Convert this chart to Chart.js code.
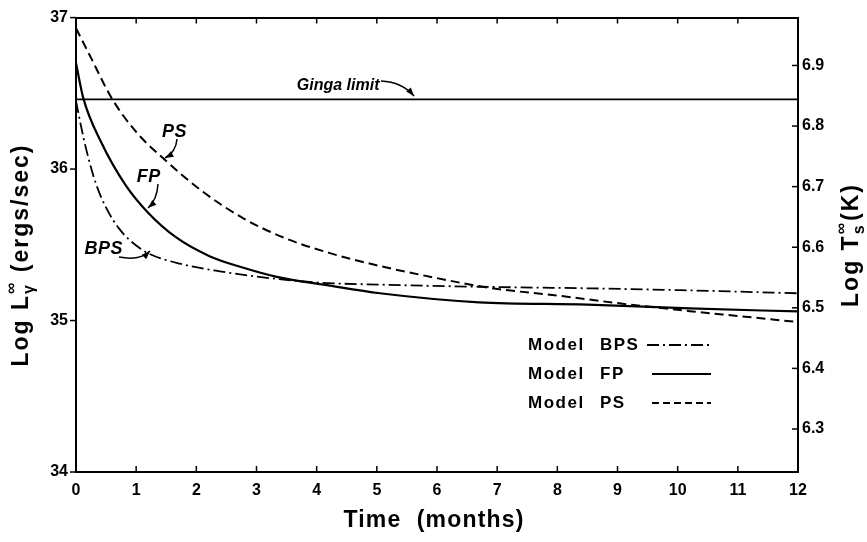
<!DOCTYPE html>
<html>
<head>
    <title>Cooling curves</title>
    <script src="https://cdn.jsdelivr.net/npm/chart.js@4.4.1/dist/chart.umd.min.js"></script>
    <style>
        body { margin: 0; background: #fff; }
        #wrap { width: 867px; height: 542px; }
    </style>
</head>
<body>
    <div id="wrap"><canvas id="myChart" width="867" height="542"></canvas></div>

    <script>
        // values (months, log L)
        var psMonths = [0, 0.23, 0.59, 1.0, 1.48, 2.11, 2.78, 3.5, 4.22, 5.05, 6.0, 6.88, 8.0, 9.0, 10.2, 11.0, 12];
        var psLog = [36.93, 36.75, 36.47, 36.245, 36.06, 35.85, 35.675, 35.54, 35.445, 35.36, 35.28, 35.215, 35.165, 35.115, 35.062, 35.03, 34.99];

        var fpMonths = [0, 0.12, 0.415, 0.83, 1.19, 1.66, 2.22, 2.77, 3.32, 4.22, 5.05, 6.7, 8.5, 10.2, 12];
        var fpLog = [36.70, 36.47, 36.18, 35.89, 35.715, 35.55, 35.425, 35.35, 35.29, 35.23, 35.18, 35.12, 35.105, 35.08, 35.06];

        var bpsMonths = [0, 0.08, 0.17, 0.33, 0.5, 0.72, 1.0, 1.22, 1.73, 2.39, 3.22, 4.05, 5.05, 6.7, 8.6, 10.3, 12];
        var bpsLog = [36.45, 36.29, 36.13, 35.905, 35.745, 35.605, 35.495, 35.44, 35.375, 35.325, 35.28, 35.25, 35.237, 35.223, 35.212, 35.198, 35.18];

        var gingaMonths = [0, 12];
        var gingaLog = [36.46, 36.46];

        var monthTicks = [0, 1, 2, 3, 4, 5, 6, 7, 8, 9, 10, 11, 12];
        var lumTicks = [34, 35, 36, 37];
        var tempTicks = [6.3, 6.4, 6.5, 6.6, 6.7, 6.8, 6.9];

        function pts(xs, ys) {
            return xs.map((x, i) => ({ x: x, y: ys[i] }));
        }

        var tickFont = { family: "Liberation Sans", size: 16, weight: "bold" };

        function setTicks(list) {
            return function (axis) {
                axis.ticks = list.map((v) => ({ value: v }));
            };
        }

        function arrow(ctx, x0, y0, cx, cy, x1, y1) {
            ctx.beginPath();
            ctx.moveTo(x0, y0);
            ctx.quadraticCurveTo(cx, cy, x1, y1);
            ctx.stroke();
            var a = Math.atan2(y1 - cy, x1 - cx);
            ctx.beginPath();
            ctx.moveTo(x1, y1);
            ctx.lineTo(x1 - 9 * Math.cos(a - 0.35), y1 - 9 * Math.sin(a - 0.35));
            ctx.lineTo(x1 - 9 * Math.cos(a + 0.35), y1 - 9 * Math.sin(a + 0.35));
            ctx.closePath();
            ctx.fill();
        }

        // draws "main" + stacked sup/sub + rest, centered at 0,0 (already rotated)
        function scriptTitle(ctx, main, sup, sub, rest) {
            var big = "bold 23px 'Liberation Sans'";
            var small = "bold 16px 'Liberation Sans'";
            ctx.letterSpacing = "2px";
            ctx.font = big;
            var w1 = ctx.measureText(main).width;
            var w3 = ctx.measureText(rest).width;
            ctx.font = small;
            var w2 = Math.max(ctx.measureText(sup).width, ctx.measureText(sub).width);
            var x = -(w1 + w2 + w3) / 2;
            ctx.textBaseline = "alphabetic";
            ctx.textAlign = "left";
            ctx.font = big;
            ctx.fillText(main, x, 8);
            ctx.font = small;
            ctx.fillText(sup, x + w1, -4);
            ctx.fillText(sub, x + w1, 14);
            ctx.font = big;
            ctx.fillText(rest, x + w1 + w2, 8);
        }

        var decor = {
            id: "decor",
            afterDraw(chart) {
                var ctx = chart.ctx;
                var s = chart.scales;
                var area = chart.chartArea;
                ctx.save();
                ctx.strokeStyle = "#000";
                ctx.fillStyle = "#000";
                ctx.lineWidth = 1.5;

                // tick marks
                monthTicks.forEach((m) => {
                    var px = s.x.getPixelForValue(m);
                    ctx.beginPath();
                    ctx.moveTo(px, area.bottom); ctx.lineTo(px, area.bottom - 6);
                    ctx.moveTo(px, area.top); ctx.lineTo(px, area.top + 6);
                    ctx.stroke();
                });
                lumTicks.forEach((v) => {
                    var py = s.y.getPixelForValue(v);
                    ctx.beginPath();
                    ctx.moveTo(area.left, py); ctx.lineTo(area.left - 6, py);
                    ctx.stroke();
                });
                tempTicks.forEach((v) => {
                    var py = s.y2.getPixelForValue(v);
                    ctx.beginPath();
                    ctx.moveTo(area.right, py); ctx.lineTo(area.right - 6, py);
                    ctx.stroke();
                });

                // axis titles
                ctx.save();
                ctx.font = "bold 23px 'Liberation Sans'";
                ctx.letterSpacing = "1.2px";
                ctx.textAlign = "center";
                ctx.textBaseline = "middle";
                ctx.fillText("Time  (months)", 434, 521);
                ctx.restore();

                ctx.save();
                ctx.translate(20, 255);
                ctx.rotate(-Math.PI / 2);
                scriptTitle(ctx, "Log L", "∞", "γ", " (ergs/sec)");
                ctx.restore();

                ctx.save();
                ctx.translate(850, 245);
                ctx.rotate(-Math.PI / 2);
                scriptTitle(ctx, "Log T", "∞", "s", "(K)");
                ctx.restore();

                // curve labels
                ctx.font = "italic bold 16px 'Liberation Sans'";
                ctx.letterSpacing = "0px";
                ctx.textBaseline = "middle";
                ctx.textAlign = "left";
                ctx.fillText("Ginga limit", s.x.getPixelForValue(3.67), s.y.getPixelForValue(36.553));
                ctx.letterSpacing = "0.5px";
                ctx.font = "italic bold 18px 'Liberation Sans'";
                ctx.fillText("PS", s.x.getPixelForValue(1.43), s.y.getPixelForValue(36.244));
                ctx.fillText("FP", s.x.getPixelForValue(1.01), s.y.getPixelForValue(35.95));
                ctx.fillText("BPS", s.x.getPixelForValue(0.14), s.y.getPixelForValue(35.469));

                ctx.lineWidth = 1.5;
                arrow(ctx, 381, 81, 402, 82, 414, 96);
                arrow(ctx, 177, 139, 176, 152, 165, 158);
                arrow(ctx, 158, 184, 157, 200, 148, 208);
                arrow(ctx, 119, 257, 140, 261, 150, 251);

                // legend
                ctx.font = "bold 17px 'Liberation Sans'";
                ctx.letterSpacing = "1.5px";
                var rows = [["BPS", 345, [12, 4, 2, 4]], ["FP", 374, []], ["PS", 403, [7, 4]]];
                rows.forEach((r) => {
                    ctx.fillText("Model", 528, r[1]);
                    ctx.fillText(r[0], 600, r[1]);
                    ctx.save();
                    ctx.setLineDash(r[2]);
                    ctx.lineWidth = 1.8;
                    ctx.beginPath();
                    ctx.moveTo(r[0] === "BPS" ? 647 : 652, r[1]);
                    ctx.lineTo(711, r[1]);
                    ctx.stroke();
                    ctx.restore();
                });
                ctx.restore();
            }
        };

        var axisBorder = { display: true, color: "#000", width: 2 };
        var noGrid = { display: true, drawOnChartArea: false, drawTicks: false };

        new Chart(document.getElementById("myChart").getContext("2d"), {
            type: "line",
            data: {
                datasets: [
                    { label: "Ginga limit", data: pts(gingaMonths, gingaLog), borderColor: "#000", borderWidth: 1.6, pointRadius: 0 },
                    { label: "PS", data: pts(psMonths, psLog), borderColor: "#000", borderWidth: 2, borderDash: [9, 5], pointRadius: 0, cubicInterpolationMode: "monotone" },
                    { label: "FP", data: pts(fpMonths, fpLog), borderColor: "#000", borderWidth: 2.2, pointRadius: 0, cubicInterpolationMode: "monotone" },
                    { label: "BPS", data: pts(bpsMonths, bpsLog), borderColor: "#000", borderWidth: 1.8, borderDash: [12, 4, 2, 4], pointRadius: 0, cubicInterpolationMode: "monotone" }
                ]
            },
            options: {
                responsive: false,
                animation: false,
                layout: { padding: 0 },
                plugins: { legend: { display: false }, tooltip: { enabled: false } },
                scales: {
                    x: {
                        type: "linear", position: "bottom", min: 0, max: 12,
                        afterBuildTicks: setTicks(monthTicks),
                        afterFit: (sc) => { sc.height = 70; },
                        grid: noGrid, border: axisBorder,
                        ticks: { font: tickFont, color: "#000", padding: 9, maxRotation: 0 }
                    },
                    x2: {
                        type: "linear", position: "top", min: 0, max: 12,
                        afterFit: (sc) => { sc.height = 15; },
                        grid: noGrid, border: axisBorder,
                        ticks: { display: false }
                    },
                    y: {
                        type: "linear", position: "left", min: 34, max: 37,
                        afterBuildTicks: setTicks(lumTicks),
                        afterFit: (sc) => { sc.width = 76; },
                        grid: noGrid, border: axisBorder,
                        ticks: { font: tickFont, color: "#000", padding: 8 }
                    },
                    y2: {
                        type: "linear", position: "right", min: 6.229, max: 6.979,
                        afterBuildTicks: setTicks(tempTicks),
                        afterFit: (sc) => { sc.width = 69; },
                        grid: noGrid, border: axisBorder,
                        ticks: { font: tickFont, color: "#000", padding: 4, callback: (v) => v.toFixed(1) }
                    }
                }
            },
            plugins: [decor]
        });
    </script>
</body>
</html>
